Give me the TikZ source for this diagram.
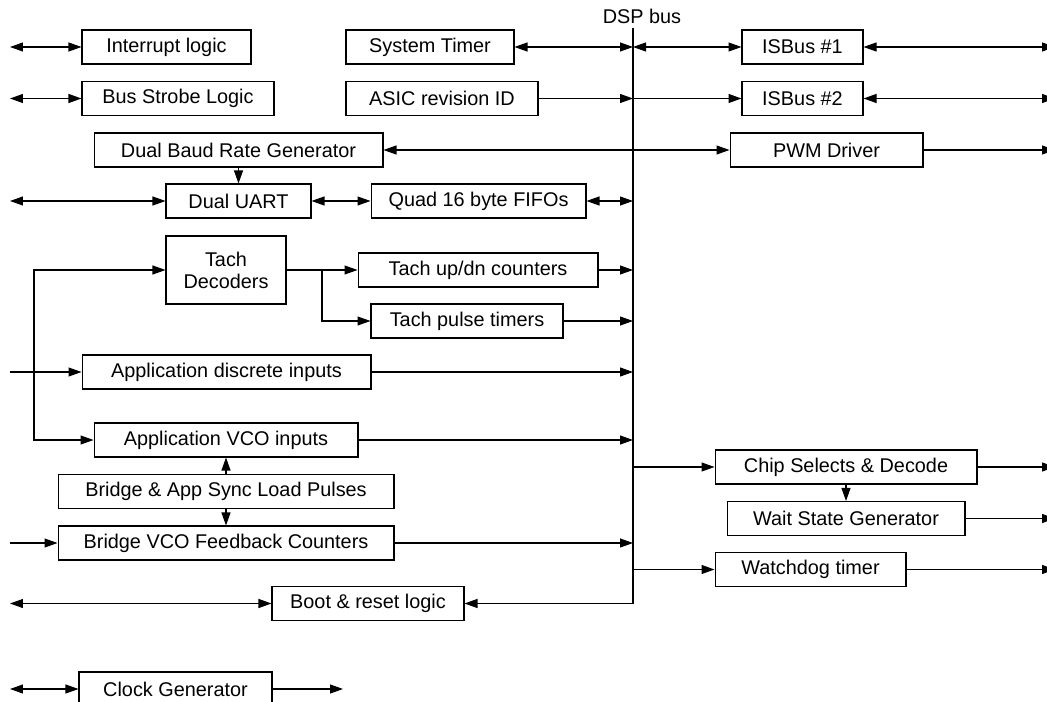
\documentclass[tikz,border=0pt]{standalone}
\usepackage{fontspec}
\setmainfont{Liberation Sans}
\usetikzlibrary{arrows.meta, positioning}

\begin{document}
\begin{tikzpicture}[x=0.02cm, y=-0.02cm, line width=0.6pt,
    >={Triangle[length=2.6mm, width=1.8mm]},
    blk/.style={draw, rectangle, inner sep=0pt, minimum height=0.68cm,
        font=\fontsize{11.3}{12.5}\selectfont, align=center}]
    \useasboundingbox (0,0) rectangle (1047,702);

    % reference points: left edge, right edge and the bus
    \coordinate (lft) at (10,0);
    \coordinate (rgt) at (1055,0);
    \coordinate (bustop) at (633,28);
    \coordinate (busbot) at (633,603.5);
    \coordinate (bus) at (633,0);

    \draw (bustop) -- (busbot);
    \node[font=\fontsize{11.3}{12.5}\selectfont, anchor=south, inner sep=1pt] (buslbl) at (642,26) {DSP bus};

    % blocks left of the bus
    \node[blk, minimum width=3.38cm] (intr) at (166.5,47) {Interrupt logic};
    \node[blk, minimum width=3.84cm] (strobe) at (178,98.5) {Bus Strobe Logic};
    \node[blk, minimum width=3.36cm] (systimer) at (430,47) {System Timer};
    \node[blk, minimum width=3.84cm] (asic) at (442,98.5) {ASIC revision ID};
    \node[blk, minimum width=5.78cm] (baud) at (238.5,150) {Dual Baud Rate Generator};
    \node[blk, minimum width=2.90cm] (uart) at (238.5,201) {Dual UART};
    \node[blk, minimum width=4.30cm] (fifo) at (478.5,201) {Quad 16 byte FIFOs};
    \node[blk, minimum width=2.40cm, minimum height=1.36cm] (tach) at (226,270) {Tach\\Decoders};
    \node[blk, minimum width=4.80cm] (updn) at (478,270) {Tach up/dn counters};
    \node[blk, minimum width=3.84cm] (pulse) at (467,321) {Tach pulse timers};
    \node[blk, minimum width=5.78cm] (discrete) at (226.5,372) {Application discrete inputs};
    \node[blk, minimum width=5.28cm] (vco) at (226,440) {Application VCO inputs};
    \node[blk, minimum width=6.72cm] (sync) at (226,491.5) {Bridge \& App Sync Load Pulses};
    \node[blk, minimum width=6.72cm] (feedback) at (226,543) {Bridge VCO Feedback Counters};
    \node[blk, minimum width=3.84cm] (boot) at (368,603.5) {Boot \& reset logic};
    \node[blk, minimum width=3.86cm] (clock) at (175.5,689) {Clock Generator};
    \coordinate (clkout) at (343,689);
    \coordinate (tachin) at (34,0);
    \coordinate (tachsplit) at (322,270);

    % blocks right of the bus
    \node[blk, minimum width=2.42cm] (isbus1) at (802.5,47) {ISBus \#1};
    \node[blk, minimum width=2.42cm] (isbus2) at (802.5,98.5) {ISBus \#2};
    \node[blk, minimum width=3.86cm] (pwm) at (826.5,150) {PWM Driver};
    \node[blk, minimum width=5.24cm] (chipsel) at (846,467) {Chip Selects \& Decode};
    \node[blk, minimum width=4.76cm] (wait) at (846,518.5) {Wait State Generator};
    \node[blk, minimum width=3.82cm] (watchdog) at (810.5,569.5) {Watchdog timer};

    % connections on the left
    \draw[<->] (intr.west -| lft) -- (intr.west);
    \draw[<->] (strobe.west -| lft) -- (strobe.west);
    \draw[<->] (uart.west -| lft) -- (uart.west);
    \draw[->] (discrete.west -| lft) -- (discrete.west);
    \draw[->] (feedback.west -| lft) -- (feedback.west);
    \draw[<->] (boot.west -| lft) -- (boot.west);
    \draw[<->] (clock.west -| lft) -- (clock.west);
    \draw[->] (clock.east) -- (clkout);
    \draw[<->] (tach.west) -- (tach.west -| tachin) |- (vco.west);

    % between blocks
    \draw[->] (baud.south) -- (uart.north);
    \draw[<->] (uart.east) -- (fifo.west);
    \draw[->] (tach.east) -- (updn.west);
    \draw[->] (tachsplit) |- (pulse.west);
    \draw[->] (sync.north) -- (vco.south);
    \draw[->] (sync.south) -- (feedback.north);
    \draw[<->] (baud.east) -- (pwm.west);
    \draw[->] (chipsel.south) -- (wait.north);

    % into the bus
    \draw[<->] (systimer.east) -- (systimer.east -| bus);
    \draw[->] (asic.east) -- (asic.east -| bus);
    \draw[<->] (fifo.east) -- (fifo.east -| bus);
    \draw[->] (updn.east) -- (updn.east -| bus);
    \draw[->] (pulse.east) -- (pulse.east -| bus);
    \draw[->] (discrete.east) -- (discrete.east -| bus);
    \draw[->] (vco.east) -- (vco.east -| bus);
    \draw[->] (feedback.east) -- (feedback.east -| bus);
    \draw[->] (busbot) -- (boot.east);

    % out of the bus
    \draw[<->] (isbus1.west -| bus) -- (isbus1.west);
    \draw[->] (isbus2.west -| bus) -- (isbus2.west);
    \draw[->] (chipsel.west -| bus) -- (chipsel.west);
    \draw[->] (watchdog.west -| bus) -- (watchdog.west);

    % right edge
    \draw[<->] (isbus1.east) -- (isbus1.east -| rgt);
    \draw[<->] (isbus2.east) -- (isbus2.east -| rgt);
    \draw[->] (pwm.east) -- (pwm.east -| rgt);
    \draw[->] (chipsel.east) -- (chipsel.east -| rgt);
    \draw[->] (wait.east) -- (wait.east -| rgt);
    \draw[->] (watchdog.east) -- (watchdog.east -| rgt);
\end{tikzpicture}
\end{document}
